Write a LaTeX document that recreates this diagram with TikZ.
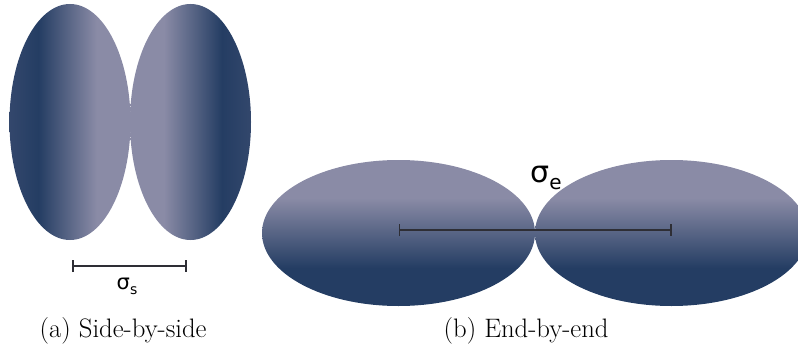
\documentclass[tikz,border=0pt]{standalone}
\usepackage{fontspec}
\usepackage{tikz}
\usetikzlibrary{arrows.meta, positioning, calc, shapes.geometric}
\newfontfamily\sigfont{DejaVu Sans}
\definecolor{elldark}{HTML}{243D63}
\definecolor{elledge}{HTML}{33476C}
\definecolor{elllight}{HTML}{8A8BA6}
\definecolor{barcol}{HTML}{2E2E35}
\pgfdeclarehorizontalshading{sideleft}{100bp}{color(0bp)=(elledge); color(25bp)=(elledge); color(37bp)=(elldark); color(61bp)=(elllight); color(75bp)=(elllight); color(100bp)=(elllight)}
\pgfdeclarehorizontalshading{sideright}{100bp}{color(0bp)=(elllight); color(25bp)=(elllight); color(39bp)=(elllight); color(63bp)=(elldark); color(75bp)=(elledge); color(100bp)=(elledge)}
\pgfdeclareverticalshading{endlong}{100bp}{color(0bp)=(elldark); color(25bp)=(elldark); color(38bp)=(elldark); color(62bp)=(elllight); color(75bp)=(elllight); color(100bp)=(elllight)}
\tikzset{
  pside/.style={ellipse, draw=none, inner sep=0pt, minimum width=121pt, minimum height=236pt},
  pend/.style={ellipse, draw=none, inner sep=0pt, minimum width=273pt, minimum height=146pt, shading=endlong},
  pbar/.style={{Bar[width=12pt]}-{Bar[width=12pt]}, line width=1.8pt, barcol},
  psig/.style={font=\sigfont, inner sep=1pt},
  pcap/.style={font=\fontsize{26.7}{31}\selectfont, inner sep=0pt, anchor=base west},
}

\begin{document}
\begin{tikzpicture}[x=1pt, y=1pt]
    \clip (0,0) rectangle (798,349);
    \useasboundingbox (0,0) rectangle (798,349);
    \node[pside, shading=sideleft] (al) at (70,227) {};
    \node[pside, shading=sideright] (ar) at (190.5,227) {};
    \node[pend] (bl) at (398.5,116) {};
    \node[pend] (br) at (671.5,116) {};
    \coordinate (sa) at ([xshift=2pt, yshift=-26pt]al.south);
    \coordinate (sb) at ([xshift=-4pt, yshift=-26pt]ar.south);
    \draw[pbar] (sa) -- (sb);
    \draw[pbar] ([yshift=3pt]bl.center) -- ([yshift=3pt]br.center);
    \node[psig, font=\sigfont\fontsize{21}{24}\selectfont] (ss) at (127,63) {σ\raisebox{-0.45ex}{\fontsize{14}{16}\selectfont s}};
    \node[psig, font=\sigfont\fontsize{30}{34}\selectfont] (se) at (546,171) {σ\raisebox{-0.45ex}{\fontsize{20}{24}\selectfont e}};
    \node[pcap] (capa) at (39.5,12) {(a) Side-by-side};
    \node[pcap] (capb) at (443.5,12) {(b) End-by-end};
  \end{tikzpicture}
\end{document}
